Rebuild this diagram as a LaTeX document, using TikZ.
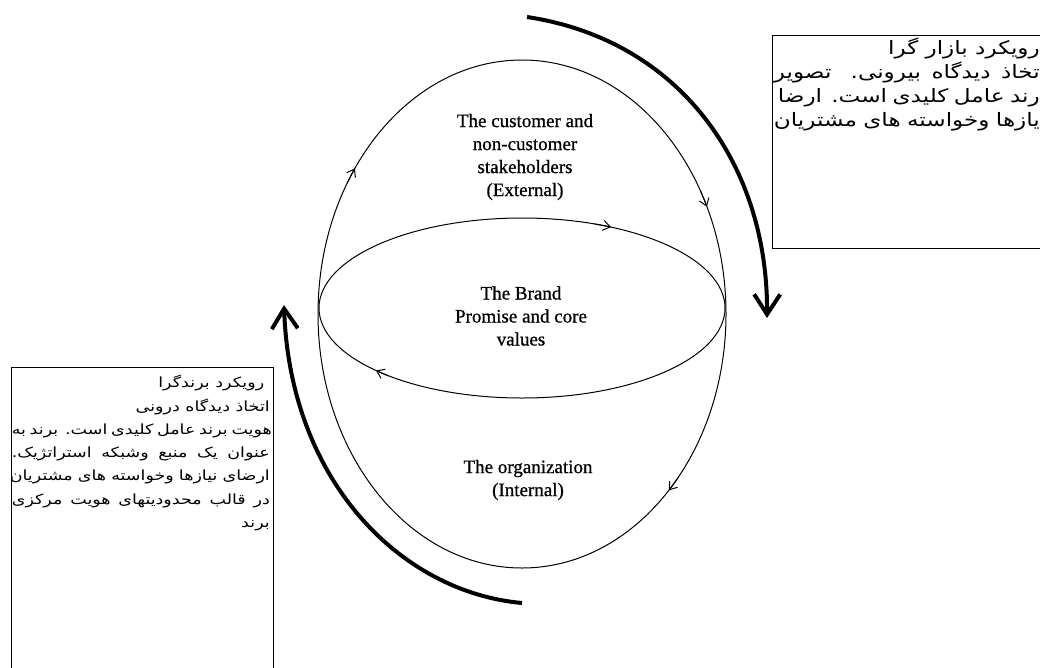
\documentclass[tikz,border=0pt]{standalone}
\usepackage{fontspec}
\setmainfont{Liberation Serif}
\newfontfamily\zonefont{Liberation Serif}[FakeBold=0.8]
\newfontfamily\farsifont[Script=Arabic,FakeStretch=1.25]{DejaVu Sans}
\usetikzlibrary{shapes.geometric,arrows.meta}
\TeXXeTstate=1

\begin{document}
\begin{tikzpicture}[x=1pt,y=1pt,>={Straight Barb[length=7pt,width=10pt]},
  region/.style={draw,ellipse,line width=1pt,inner sep=0pt,outer sep=0pt},
  zonetext/.style={font=\zonefont\fontsize{19}{23}\selectfont,align=center},
  notebox/.style={draw,line width=1pt,inner sep=0pt,outer sep=0pt,anchor=north west},
  farsitext/.style={font=\farsifont\fontsize{14}{23.3}\selectfont,align=right,anchor=north east,inner sep=0pt},
  flow/.style={line width=4pt,-{Straight Barb[length=20pt,width=26pt]}}]
\useasboundingbox (0,0) rectangle (1040,-667);
% the sphere and the brand core
\node[region,minimum width=408,minimum height=508] (sphere) at (522,-314) {};
\node[region,minimum width=406,minimum height=180] (core) at (522,-308) {};
\foreach \t in {145,25,-44}
  \draw[->,line width=1pt] (sphere.center) ++(\t+4:204 and 254) arc[start angle=\t+4,end angle=\t,x radius=204,y radius=254];
\foreach \t in {64,224}
  \draw[->,line width=1pt] (core.center) ++(\t+5:203 and 90) arc[start angle=\t+5,end angle=\t,x radius=203,y radius=90];
\node[zonetext] (ext) at (525,-157) {The customer and\\non-customer\\stakeholders\\(External)};
\node[zonetext] (brand) at (521,-316) {The Brand\\Promise and core\\values};
\node[zonetext] (org) at (528,-480) {The organization\\(Internal)};
% the two approaches
\coordinate (outstart) at (527,-17);
\coordinate (outtip) at (767,-318);
\draw[flow] (outstart) .. controls (680,-40) and (768,-165) .. (outtip);
\coordinate (instart) at (522,-603);
\coordinate (intip) at (284,-305);
\draw[flow] (instart) .. controls (400,-592) and (290,-480) .. (intip);
% notes
\node[notebox,minimum width=274,minimum height=213] (market) at (772,-35) {};
\node[farsitext,font=\farsifont\fontsize{18.5}{24}\selectfont] (markettext) at ([xshift=-6,yshift=-3]market.north east) {\beginR رویکرد بازار گرا\endR\\
\makebox[266pt][s]{\beginR تخاذ دیدگاه بیرونی. تصویر\endR}\\
\makebox[262pt][s]{\beginR رند عامل کلیدی است. ارضا\endR}\\
\makebox[266pt][s]{\beginR یازها وخواسته های مشتریان\endR}};
\node[notebox,minimum width=262,minimum height=310] (identity) at (11,-367) {};
\node[farsitext] (identitytext) at ([xshift=-3,yshift=-8]identity.north east) {\beginR\ رویکرد برندگرا\endR\\
\beginR اتخاذ دیدگاه درونی\endR\\
\makebox[258pt][s]{\beginR هویت برند عامل کلیدی است. برند به\endR}\\
\makebox[258pt][s]{\beginR عنوان یک منبع وشبکه استراتژیک.\endR}\\
\makebox[260pt][s]{\beginR ارضای نیازها وخواسته های مشتریان\endR}\\
\makebox[258pt][s]{\beginR در قالب محدودیتهای هویت مرکزی\endR}\\
\beginR برند\endR};
\end{tikzpicture}
\end{document}
